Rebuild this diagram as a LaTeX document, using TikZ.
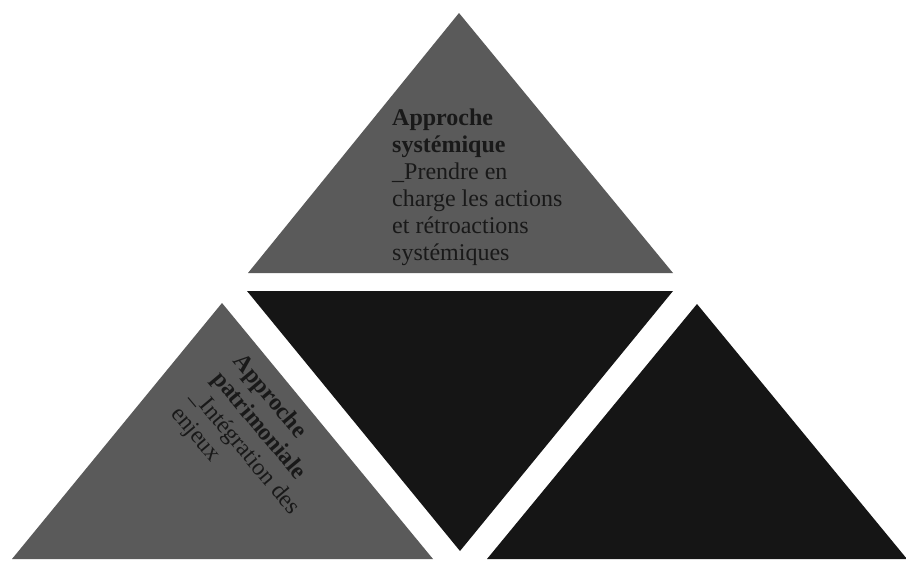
\documentclass[tikz,border=0pt]{standalone}
\usepackage{fontspec}
\setmainfont{Liberation Serif}
\definecolor{trigray}{RGB}{90,90,90}
\definecolor{triblack}{RGB}{21,21,21}
\definecolor{txt}{RGB}{25,25,25}
\tikzset{
  graytri/.style={fill=trigray},
  blacktri/.style={fill=triblack},
  label/.style={inner sep=0pt, align=left, text=txt,
    font=\fontsize{24}{27}\selectfont}
}
\begin{document}
\begin{tikzpicture}[x=1pt,y=-1pt]
\useasboundingbox (0,0) rectangle (906,562);
% top triangle
\fill[graytri] (459,13) -- (248,273) -- (673,273) -- cycle;
% central inverted triangle
\fill[blacktri] (247,291) -- (673,291) -- (460,551) -- cycle;
% left triangle
\fill[graytri] (222,303) -- (12,559) -- (433,559) -- cycle;
% right triangle
\fill[blacktri] (697,304) -- (487,559) -- (907,559) -- cycle;
% texts
\node[label, anchor=north west] (tsys) at (392,109)
  {\textbf{Approche}\\\textbf{systémique}\\\_Prendre en\\charge les actions\\et rétroactions\\systémiques};
\node[label, anchor=north west, rotate=-50] (tpat) at (245,351)
  {\textbf{Approche}\\\textbf{patrimoniale}\\\_Intégration des\\enjeux};
\end{tikzpicture}
\end{document}
